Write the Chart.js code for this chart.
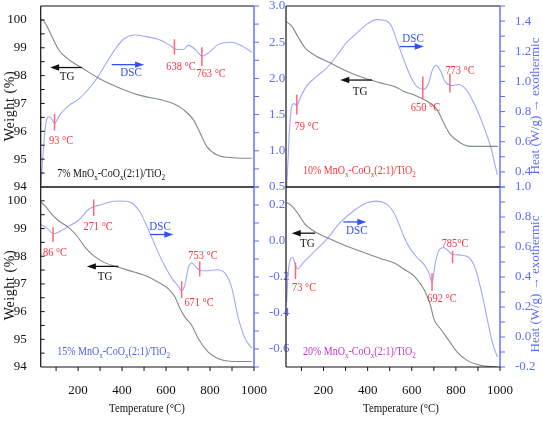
<!DOCTYPE html>
<html><head><meta charset="utf-8">
<script src="https://cdn.jsdelivr.net/npm/chart.js@4.4.1/dist/chart.umd.min.js"></script>
<style>
html,body{margin:0;padding:0;background:#fff;}
#wrap{position:relative;width:543px;height:423px;overflow:hidden;}
#wrap canvas{position:absolute;left:0;top:0;}
</style></head><body>
<div id="wrap">
<canvas id="c0" width="543" height="423"></canvas>
<canvas id="c1" width="543" height="423"></canvas>
<canvas id="c2" width="543" height="423"></canvas>
<canvas id="c3" width="543" height="423"></canvas>
</div>
<script>
// ---------- data ----------
const tempTicks = [200, 400, 600, 800, 1000];
const weightTicks = [94, 95, 96, 97, 98, 99, 100];
const heatTicks7 = [0.5, 1.0, 1.5, 2.0, 2.5, 3.0];
const heatTicks10 = [0.4, 0.6, 0.8, 1.0, 1.2, 1.4];
const heatTicks15 = [-0.6, -0.4, -0.2, 0.0, 0.2];
const heatTicks20 = [-0.2, 0.0, 0.2, 0.4, 0.6, 0.8, 1.0];

const sampleNames = ['7% MnO_x-CoO_x(2:1)/TiO_2', '10% MnO_x-CoO_x(2:1)/TiO_2', '15% MnO_x-CoO_x(2:1)/TiO_2', '20% MnO_x-CoO_x(2:1)/TiO_2'];

// 7%
const tgT7 = [30, 45, 60, 80, 111, 150, 217, 300, 391, 482, 573, 633, 679, 724, 755, 785, 830, 906, 990];
const tgW7 = [100.0, 99.95, 99.75, 99.42, 98.94, 98.62, 98.28, 97.88, 97.55, 97.29, 97.14, 97.0, 96.78, 96.42, 95.94, 95.46, 95.16, 95.05, 95.03];
const dscT7 = [31, 36, 42, 50, 57, 68, 80, 93, 105, 118, 156, 201, 247, 292, 330, 368, 406, 459, 505, 565, 611, 649, 679, 702, 732, 765, 800, 838, 899, 944, 990];
const dscH7 = [0.5, 0.75, 1.01, 1.3, 1.43, 1.47, 1.44, 1.38, 1.43, 1.5, 1.62, 1.71, 1.85, 2.03, 2.22, 2.4, 2.54, 2.6, 2.58, 2.54, 2.47, 2.4, 2.4, 2.46, 2.4, 2.31, 2.37, 2.47, 2.5, 2.45, 2.36];
const peaks7 = ['93 °C', '638 °C', '763 °C'];
const peakT7 = [93, 638, 763];

// 10%
const tgT10 = [33, 56, 86, 116, 154, 230, 306, 381, 457, 525, 563, 624, 670, 715, 745, 775, 821, 866, 990];
const tgW10 = [99.93, 99.78, 99.37, 99.0, 98.76, 98.46, 98.16, 97.92, 97.74, 97.6, 97.44, 97.26, 97.08, 96.78, 96.3, 95.88, 95.58, 95.46, 95.46];
const dscT10 = [33, 40, 45, 56, 66, 79, 94, 124, 170, 215, 260, 306, 351, 397, 442, 487, 510, 533, 563, 594, 624, 654, 677, 692, 712, 730, 753, 783, 813, 844, 881, 920, 957, 988];
const dscH10 = [0.3, 0.5, 0.66, 0.835, 0.853, 0.84, 0.89, 0.97, 1.035, 1.09, 1.17, 1.26, 1.32, 1.38, 1.41, 1.40, 1.36, 1.27, 1.147, 1.035, 0.965, 0.947, 0.99, 1.07, 1.107, 1.07, 0.995, 0.973, 0.98, 0.95, 0.858, 0.725, 0.57, 0.38];
const peaks10 = ['79 °C', '650 °C', '773 °C'];
const peakT10 = [79, 650, 773];

// 15%
const tgT15 = [31, 50, 80, 111, 156, 194, 232, 270, 323, 383, 459, 505, 565, 611, 641, 664, 686, 717, 747, 792, 838, 899, 990];
const tgW15 = [99.94, 99.82, 99.52, 99.28, 99.04, 98.74, 98.32, 98.02, 97.76, 97.6, 97.42, 97.3, 97.06, 96.82, 96.52, 96.1, 95.8, 95.5, 95.02, 94.54, 94.3, 94.2, 94.2];
const dscT15 = [31, 57, 88, 118, 156, 201, 247, 271, 300, 340, 380, 436, 482, 510, 535, 565, 595, 626, 656, 671, 686, 701, 717, 740, 759, 792, 830, 868, 899, 929, 959, 990];
const dscH15 = [0.092, 0.073, 0.04, 0.054, 0.082, 0.114, 0.175, 0.19, 0.2, 0.215, 0.222, 0.216, 0.16, 0.09, 0.02, -0.066, -0.14, -0.206, -0.252, -0.276, -0.243, -0.15, -0.122, -0.15, -0.165, -0.165, -0.16, -0.178, -0.26, -0.43, -0.54, -0.596];
const peaks15 = ['86 °C', '271 °C', '671 °C', '753 °C'];
const peakT15 = [86, 271, 671, 753];

// 20%
const tgT20 = [33, 56, 86, 116, 154, 230, 306, 381, 457, 525, 563, 609, 639, 662, 685, 700, 730, 768, 806, 851, 912, 988];
const tgW20 = [99.94, 99.82, 99.52, 99.16, 98.92, 98.62, 98.36, 98.14, 97.92, 97.74, 97.54, 97.3, 97.0, 96.7, 96.22, 95.74, 95.38, 94.96, 94.54, 94.24, 94.06, 94.0];
const dscT20 = [33, 40, 51, 60, 71, 81, 109, 154, 215, 275, 336, 397, 442, 487, 510, 533, 563, 594, 624, 654, 677, 692, 707, 727, 745, 783, 821, 859, 889, 920, 942, 965, 988];
const dscH20 = [0.23, 0.43, 0.52, 0.53, 0.486, 0.453, 0.497, 0.563, 0.652, 0.762, 0.84, 0.895, 0.906, 0.884, 0.85, 0.785, 0.674, 0.586, 0.53, 0.486, 0.43, 0.364, 0.497, 0.586, 0.596, 0.552, 0.546, 0.53, 0.453, 0.276, 0.12, -0.034, -0.134];
const peaks20 = ['73 °C', '692 °C', '785°C'];
const peakT20 = [73, 692, 785];

// ---------- layout / style ----------
const FONT = '"Liberation Serif", "Times New Roman", serif';
const TG_COLOR = '#7f8b86';
const DSC_COLOR = '#a0a8ff';
const AXIS_BLUE = '#5b6cff';
const RED = '#ff3344';
const RED_LINE = '#ff6677';
const ARROW_BLUE = '#3050ff';
const SX = 0.8; // horizontal condensing of annotation text

const panels = [
  { id: 'c0', name: sampleNames[0], nameColor: '#111', tgT: tgT7, tgW: tgW7, dscT: dscT7, dscH: dscH7, peaks: peaks7, peakT: peakT7,
    top: 6, xH: 236, leftW: 40.7, rightW: 289, showX: false, showW: true, hMin: 0.5, hMax: 3.0, hTicks: heatTicks7, hMinor: 0.25,
    isTop: true, isLeft: true,
    marks: [[1.51, 1.28, 123, 1.14], [2.54, 2.33, 668, 2.17], [2.43, 2.17, 805, 2.06]],
    tg: [217, 73, 2.15, 150, 2.02], dsc: [353, 500, 2.19, 441, 2.08], nameAt: [105, 0.69] },
  { id: 'c1', name: sampleNames[1], nameColor: '#ff3535', tgT: tgT10, tgW: tgW10, dscT: dscT10, dscH: dscH10, peaks: peaks10, peakT: peakT10,
    top: 6, xH: 236, leftW: 286, rightW: 43, showX: false, showW: false, hMin: 0.3, hMax: 1.5, hTicks: heatTicks10, hMinor: 0.1,
    isTop: true, isLeft: false,
    marks: [[0.913, 0.78, 123, 0.70], [1.033, 0.88, 662, 0.827], [1.053, 0.927, 819, 1.073]],
    tg: [420, 276, 1.009, 366, 0.933], dsc: [545, 654, 1.231, 606, 1.287], nameAt: [107, 0.407] },
  { id: 'c2', name: sampleNames[2], nameColor: '#4a5cf0', tgT: tgT15, tgW: tgW15, dscT: dscT15, dscH: dscH15, peaks: peaks15, peakT: peakT15,
    top: 187, xH: 56, leftW: 40.7, rightW: 289, showX: true, showW: true, hMin: -0.7, hMax: 0.3, hTicks: heatTicks15, hMinor: 0.1,
    isTop: false, isLeft: true,
    marks: [[0.076, -0.005, 95, -0.063], [0.231, 0.138, 291, 0.082], [-0.224, -0.317, 750, -0.343], [-0.113, -0.197, 768, -0.081]],
    tg: [383, 240, -0.141, 323, -0.198], dsc: [527, 633, 0.036, 573, 0.078], nameAt: [105, -0.616] },
  { id: 'c3', name: sampleNames[3], nameColor: '#cc33cc', tgT: tgT20, tgW: tgW20, dscT: dscT20, dscH: dscH20, peaks: peaks20, peakT: peakT20,
    top: 187, xH: 56, leftW: 286, rightW: 43, showX: true, showW: false, hMin: -0.2, hMax: 1.0, hTicks: heatTicks20, hMinor: 0.1,
    isTop: false, isLeft: false,
    marks: [[0.497, 0.387, 112, 0.332], [0.426, 0.309, 737, 0.253], [0.574, 0.493, 796, 0.621]],
    tg: [162, 56, 0.692, 127, 0.624], dsc: [290, 394, 0.767, 351, 0.712], nameAt: [107, -0.095] }
];

function line(ctx, x1, y1, x2, y2, color, w) {
  ctx.save(); ctx.strokeStyle = color; ctx.lineWidth = w;
  ctx.beginPath(); ctx.moveTo(x1, y1); ctx.lineTo(x2, y2); ctx.stroke(); ctx.restore();
}
function text(ctx, s, x, y, color, size, sx) {
  ctx.save(); ctx.translate(x, y); ctx.scale(sx || 1, 1);
  ctx.fillStyle = color; ctx.font = size + 'px ' + FONT;
  ctx.textAlign = 'center'; ctx.textBaseline = 'middle';
  ctx.fillText(s, 0, 0); ctx.restore();
}
function subText(ctx, s, x, y, color, size, sx) {
  ctx.save(); ctx.translate(x, y); ctx.scale(sx || 1, 1);
  ctx.fillStyle = color; ctx.textBaseline = 'middle'; ctx.textAlign = 'left';
  let cx = 0; let i = 0;
  while (i < s.length) {
    if (s[i] === '_') {
      ctx.font = Math.round(size * 0.7) + 'px ' + FONT;
      ctx.fillText(s[i + 1], cx, size * 0.32);
      cx += ctx.measureText(s[i + 1]).width; i += 2;
    } else {
      let j = s.indexOf('_', i); if (j < 0) j = s.length;
      const part = s.slice(i, j);
      ctx.font = size + 'px ' + FONT;
      ctx.fillText(part, cx, 0);
      cx += ctx.measureText(part).width; i = j;
    }
  }
  ctx.restore();
}
function arrow(ctx, x1, x2, y, color) {
  const dir = Math.sign(x2 - x1);
  line(ctx, x1, y, x2 - dir * 6, y, color, 1.3);
  ctx.save(); ctx.fillStyle = color; ctx.beginPath();
  ctx.moveTo(x2, y); ctx.lineTo(x2 - dir * 9, y - 3.2); ctx.lineTo(x2 - dir * 9, y + 3.2); ctx.closePath(); ctx.fill(); ctx.restore();
}
function vtext(ctx, s, x, y, color, size, spacing) {
  ctx.save(); ctx.translate(x, y); ctx.rotate(-Math.PI / 2);
  ctx.fillStyle = color; ctx.font = size + 'px ' + FONT; ctx.textAlign = 'center'; ctx.textBaseline = 'middle';
  if (spacing) ctx.letterSpacing = spacing + 'px';
  ctx.fillText(s, 0, 0); ctx.restore();
}

const deco = {
  id: 'deco',
  afterDraw(chart) {
    const p = chart.options.plugins.deco.panel;
    const ctx = chart.ctx; const a = chart.chartArea;
    const X = chart.scales.x, W = chart.scales.yW, H = chart.scales.yH;
    // frame
    line(ctx, a.left, a.top, a.right, a.top, '#111', 1.2);
    line(ctx, a.left, a.bottom, a.right, a.bottom, '#111', 1.2);
    line(ctx, a.left, a.top, a.left, a.bottom, '#111', 1.2);
    line(ctx, a.right, a.top, a.right, a.bottom, AXIS_BLUE, 1.4);
    // left ticks (inward)
    if (p.isLeft) {
      for (let v = 94; v <= 100.5001; v += 0.5) {
        const y = W.getPixelForValue(v);
        if (y > a.top + 0.5 && y < a.bottom - 0.5) line(ctx, a.left, y, a.left + 4, y, '#111', 1);
      }
    }
    // right ticks (outward)
    const start = Math.ceil(p.hMin / p.hMinor - 1e-6);
    for (let k = start; k * p.hMinor <= p.hMax + 1e-6; k++) {
      const y = H.getPixelForValue(k * p.hMinor);
      line(ctx, a.right, y, a.right + 5, y, AXIS_BLUE, 1);
    }
    // x ticks (outward) on bottom panels
    if (p.showX) {
      for (let t = 100; t <= 1000; t += 100) {
        const x = X.getPixelForValue(t);
        line(ctx, x, a.bottom, x, a.bottom + 4, '#111', 1);
      }
      text(ctx, 'Temperature (°C)', p.isLeft ? 147 : 401, 408, '#111', 13.5, 0.8);
    }
    // axis titles
    if (p.isLeft) vtext(ctx, 'Weight (%)', 10, p.isTop ? 106 : 285, '#111', 14, 0.6);
    else vtext(ctx, 'Heat (W/g) \u2192 exothermic', 536, p.isTop ? 106 : 284, AXIS_BLUE, 13, 0);
    // peak markers
    p.marks.forEach((m, i) => {
      const x = X.getPixelForValue(p.peakT[i]);
      line(ctx, x, H.getPixelForValue(m[0]), x, H.getPixelForValue(m[1]), RED_LINE, 1.5);
      text(ctx, p.peaks[i], X.getPixelForValue(m[2]), H.getPixelForValue(m[3]), RED, 13, SX);
    });
    // TG arrow
    const tg = p.tg;
    arrow(ctx, X.getPixelForValue(tg[0]), X.getPixelForValue(tg[1]), H.getPixelForValue(tg[2]), '#111');
    text(ctx, 'TG', X.getPixelForValue(tg[3]), H.getPixelForValue(tg[4]), '#111', 13, 0.85);
    const ds = p.dsc;
    arrow(ctx, X.getPixelForValue(ds[0]), X.getPixelForValue(ds[1]), H.getPixelForValue(ds[2]), ARROW_BLUE);
    text(ctx, 'DSC', X.getPixelForValue(ds[3]), H.getPixelForValue(ds[4]), ARROW_BLUE, 13, 0.85);
    // sample name
    subText(ctx, p.name, X.getPixelForValue(p.nameAt[0]), H.getPixelForValue(p.nameAt[1]), p.nameColor, 12.5, SX);
  }
};

const tickFont = { family: FONT, size: 13 };

panels.forEach(p => {
  const tgData = p.tgT.map((t, i) => ({ x: t, y: p.tgW[i] }));
  const dscData = p.dscT.map((t, i) => ({ x: t, y: p.dscH[i] }));
  new Chart(document.getElementById(p.id), {
    type: 'line',
    data: {
      datasets: [
        { label: 'TG', data: tgData, yAxisID: 'yW', borderColor: TG_COLOR, borderWidth: 1.1, pointRadius: 0, tension: 0.35, cubicInterpolationMode: 'monotone', fill: false },
        { label: 'DSC', data: dscData, yAxisID: 'yH', borderColor: DSC_COLOR, borderWidth: 1.1, pointRadius: 0, tension: 0.35, cubicInterpolationMode: 'monotone', fill: false }
      ]
    },
    options: {
      responsive: false, animation: false, devicePixelRatio: 1,
      layout: { padding: { left: 0, right: 0, top: p.top, bottom: 0 } },
      plugins: { legend: { display: false }, tooltip: { enabled: false }, deco: { panel: p } },
      scales: {
        x: {
          type: 'linear', position: 'bottom', min: 30, max: 1000,
          afterBuildTicks: s => { s.ticks = tempTicks.map(v => ({ value: v })); },
          afterFit: s => { s.height = p.xH; s.paddingLeft = 0; s.paddingRight = 0; },
          grid: { display: false }, border: { display: false },
          ticks: { display: p.showX, color: '#111', font: tickFont, padding: 8, maxRotation: 0, autoSkip: false, callback: v => String(v) }
        },
        yW: {
          type: 'linear', position: 'left', min: 94, max: 100.5,
          afterBuildTicks: s => { s.ticks = weightTicks.map(v => ({ value: v })); },
          afterFit: s => { s.width = p.leftW; s.paddingTop = 0; s.paddingBottom = 0; },
          grid: { display: false }, border: { display: false },
          ticks: { display: p.showW, color: '#111', font: tickFont, padding: 6, callback: v => String(v) }
        },
        yH: {
          type: 'linear', position: 'right', min: p.hMin, max: p.hMax,
          afterBuildTicks: s => { s.ticks = p.hTicks.map(v => ({ value: v })); },
          afterFit: s => { s.width = p.rightW; s.paddingTop = 0; s.paddingBottom = 0; },
          grid: { display: false }, border: { display: false },
          ticks: { display: true, color: AXIS_BLUE, font: tickFont, padding: 7, callback: v => Number(v).toFixed(1) }
        }
      }
    },
    plugins: [deco]
  });
});
</script>
</body></html>
